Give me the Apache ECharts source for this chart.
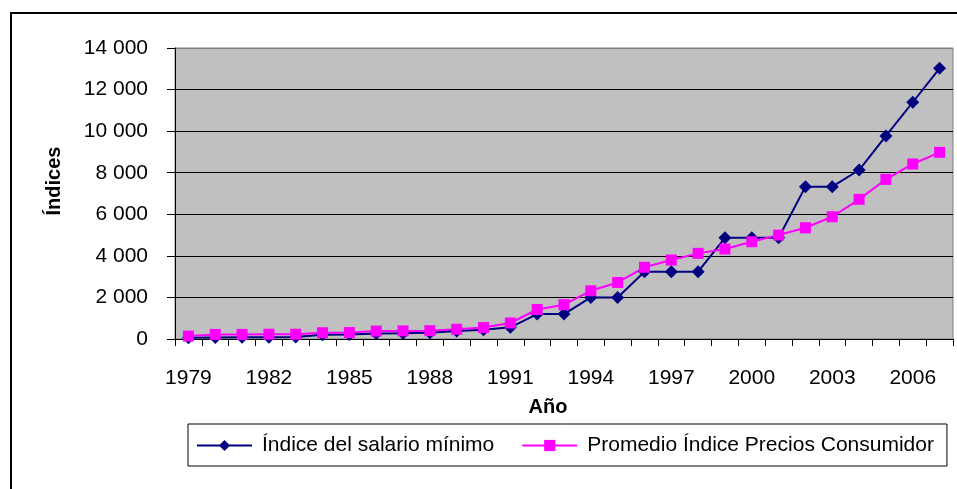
<!DOCTYPE html>
<html>
<head>
<meta charset="utf-8">
<script src="https://cdn.jsdelivr.net/npm/echarts@6/dist/echarts.min.js"></script>
<style>
html,body{margin:0;padding:0;background:#fff;}
#c{width:957px;height:489px;}
</style>
</head>
<body>
<div id="c"></div>
<script>
var years = ['1979','1980','1981','1982','1983','1984','1985','1986','1987','1988','1989','1990','1991','1992','1993','1994','1995','1996','1997','1998','1999','2000','2001','2002','2003','2004','2005','2006','2007'];
var salarioMinimo = [60, 70, 80, 90, 100, 200, 220, 270, 280, 300, 380, 450, 560, 1200, 1200, 2000, 2000, 3240, 3240, 3240, 4870, 4870, 4870, 7330, 7330, 8130, 9770, 11390, 13020];
var ipcPromedio = [140, 220, 220, 230, 230, 300, 310, 380, 390, 400, 470, 550, 770, 1420, 1650, 2320, 2720, 3450, 3800, 4120, 4330, 4680, 5000, 5350, 5880, 6720, 7680, 8420, 8980];
var seriesNames = ['Índice del salario mínimo', 'Promedio Índice Precios Consumidor'];
var yTicks = [0, 2000, 4000, 6000, 8000, 10000, 12000, 14000];

var FONT = 'Liberation Sans, Arial, sans-serif';
var chart = echarts.init(document.getElementById('c'), null, {renderer: 'canvas'});
function fmt(v){ return String(v).replace(/\B(?=(\d{3})+(?!\d))/g, ' '); }

chart.setOption({
  animation: false,
  backgroundColor: '#fff',
  grid: {
    left: 175, right: 4, top: 48, bottom: 150,
    show: true, backgroundColor: '#C0C0C0', borderColor: '#808080', borderWidth: 1
  },
  graphic: [
    {type: 'rect', shape: {x: 11, y: 13, width: 960, height: 490}, style: {fill: 'none', stroke: '#000', lineWidth: 2}, silent: true, z: 100},
    {type: 'text', x: 54, y: 181, rotation: Math.PI / 2,
      style: {text: 'Índices', font: 'bold 20px ' + FONT, fill: '#000', textAlign: 'center', textVerticalAlign: 'middle'}},
    {type: 'text', x: 548, y: 407,
      style: {text: 'Año', font: 'bold 20px ' + FONT, fill: '#000', textAlign: 'center', textVerticalAlign: 'middle'}}
  ],
  legend: {
    left: 188, top: 424,
    padding: [11, 13, 10, 8],
    borderColor: '#000', borderWidth: 1,
    itemWidth: 55, itemHeight: 14, itemGap: 27,
    textStyle: {fontFamily: FONT, fontSize: 21, color: '#000', padding: [0, 0, 0, 5]},
    data: seriesNames
  },
  xAxis: {
    type: 'category',
    data: years,
    boundaryGap: true,
    axisLine: {lineStyle: {color: '#000', width: 1}},
    axisTick: {show: true, interval: 0, length: 7, lineStyle: {color: '#000'}},
    axisLabel: {interval: 2, margin: 29, fontFamily: FONT, fontSize: 21, color: '#000'},
    splitLine: {show: false}
  },
  yAxis: {
    type: 'value',
    min: yTicks[0], max: yTicks[yTicks.length - 1], interval: 2000,
    axisLine: {show: true, lineStyle: {color: '#000', width: 1}},
    axisTick: {show: true, length: 8, lineStyle: {color: '#000'}},
    axisLabel: {margin: 27, fontFamily: FONT, fontSize: 21, color: '#000', formatter: fmt},
    splitLine: {show: true, lineStyle: {color: ['#000','#000','#000','#000','#000','#000','#000','#808080'], width: 1}}
  },
  series: [
    {
      name: seriesNames[0], type: 'line', data: salarioMinimo,
      symbol: 'diamond', symbolSize: 13,
      itemStyle: {color: '#000080'},
      lineStyle: {color: '#000080', width: 2}
    },
    {
      name: seriesNames[1], type: 'line', data: ipcPromedio,
      symbol: 'rect', symbolSize: 11,
      itemStyle: {color: '#FF00FF'},
      lineStyle: {color: '#FF00FF', width: 2}
    }
  ]
});
</script>
</body>
</html>
